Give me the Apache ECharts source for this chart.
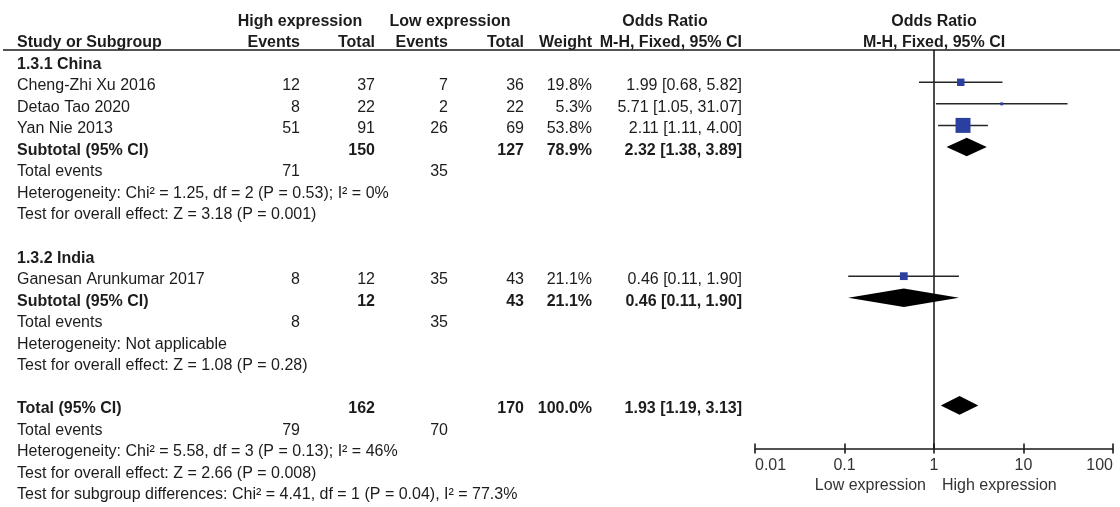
<!DOCTYPE html>
<html>
<head>
<meta charset="utf-8">
<script src="https://cdn.jsdelivr.net/npm/echarts@6/dist/echarts.min.js"></script>
<style>
  html, body { margin: 0; padding: 0; background: #fff; }
  #chart { width: 1120px; height: 507px; }
</style>
</head>
<body>
<div id="chart"></div>
<script>
// ---- Study-level data ----
const studies = ['Cheng-Zhi Xu 2016', 'Detao Tao 2020', 'Yan Nie 2013', 'Ganesan Arunkumar 2017'];
const studyRows = [1, 2, 3, 10];
const highEvents = [12, 8, 51, 8];
const highTotal = [37, 22, 91, 12];
const lowEvents = [7, 2, 26, 35];
const lowTotal = [36, 22, 69, 43];
const weights = [19.8, 5.3, 53.8, 21.1];
const oddsRatio = [1.99, 5.71, 2.11, 0.46];
const ciLow = [0.68, 1.05, 1.11, 0.11];
const ciHigh = [5.82, 31.07, 4.00, 1.90];

// ---- Subgroup / overall pooled estimates ----
const pooledLabels = ['Subtotal (95% CI)', 'Subtotal (95% CI)', 'Total (95% CI)'];
const pooledRows = [4, 11, 16];
const pooledHighTotal = [150, 12, 162];
const pooledLowTotal = [127, 43, 170];
const pooledWeight = [78.9, 21.1, 100.0];
const pooledOR = [2.32, 0.46, 1.93];
const pooledLow = [1.38, 0.11, 1.19];
const pooledHigh = [3.89, 1.90, 3.13];
const pooledHighEvents = [71, 8, 79];
const pooledLowEvents = [35, 35, 70];

// ---- Group headings and statistics lines ----
const groupTitles = ['1.3.1 China', '1.3.2 India'];
const groupRows = [0, 9];
const statRows = [6, 7, 13, 14, 18, 19, 20];
const statTexts = [
  'Heterogeneity: Chi\u00b2 = 1.25, df = 2 (P = 0.53); I\u00b2 = 0%',
  'Test for overall effect: Z = 3.18 (P = 0.001)',
  'Heterogeneity: Not applicable',
  'Test for overall effect: Z = 1.08 (P = 0.28)',
  'Heterogeneity: Chi\u00b2 = 5.58, df = 3 (P = 0.13); I\u00b2 = 46%',
  'Test for overall effect: Z = 2.66 (P = 0.008)',
  'Test for subgroup differences: Chi\u00b2 = 4.41, df = 1 (P = 0.04), I\u00b2 = 77.3%'
];

// ---- Axis ticks ----
const tickValues = [0.01, 0.1, 1, 10, 100];
const tickLabels = ['0.01', '0.1', '1', '10', '100'];
const favourLabels = ['Low expression', 'High expression'];

const FONT = '"Liberation Sans", Arial, Helvetica, sans-serif';
const TEXT_COLOR = '#1c1c1c';
const SQUARE_COLOR = '#2b3fa0';
const DIAMOND_HALF = 9.3;

// Column anchors of the table (pixels)
const COL = { name: 17, hiEv: 300, hiTot: 375, loEv: 448, loTot: 524, weight: 592, or: 742 };

function squareSize(w) { return 0.92 * Math.pow(w, 0.7); }
function fmtCI(o, l, h) { return o.toFixed(2) + ' [' + l.toFixed(2) + ', ' + h.toFixed(2) + ']'; }
function fmtW(w) { return w.toFixed(1) + '%'; }

const chart = echarts.init(document.getElementById('chart'), null, { renderer: 'canvas' });

const studyData = studies.map((s, i) => [oddsRatio[i], studyRows[i], ciLow[i], ciHigh[i], weights[i]]);
const pooledData = pooledOR.map((o, i) => [o, pooledRows[i], pooledLow[i], pooledHigh[i]]);

const xAxisBase = {
  type: 'log',
  logBase: 10,
  min: 0.01,
  max: 100,
  splitLine: { show: false },
  minorTick: { show: false }
};

chart.setOption({
  animation: false,
  backgroundColor: '#ffffff',
  grid: { left: 755, right: 7, top: 50, bottom: 58.5, containLabel: false },
  xAxis: [
    Object.assign({}, xAxisBase, {
      position: 'bottom',
      axisLine: { show: true, onZero: false, lineStyle: { color: '#1a1a1a', width: 1.6 } },
      axisTick: { show: true, inside: false, length: 5, lineStyle: { color: '#1a1a1a', width: 1.6 } },
      axisLabel: {
        show: true,
        margin: 9,
        color: '#333',
        fontSize: 16,
        fontFamily: FONT,
        alignMinLabel: 'left',
        alignMaxLabel: 'right',
        formatter: function (v) {
          let best = 0;
          tickValues.forEach((t, k) => {
            if (Math.abs(Math.log10(t) - Math.log10(v)) < Math.abs(Math.log10(tickValues[best]) - Math.log10(v))) best = k;
          });
          return tickLabels[best];
        }
      }
    }),
    Object.assign({}, xAxisBase, {
      position: 'bottom',
      axisLine: { show: false, onZero: false },
      axisTick: { show: true, inside: true, length: 5, lineStyle: { color: '#1a1a1a', width: 1.6 } },
      axisLabel: { show: false }
    })
  ],
  yAxis: {
    type: 'value',
    inverse: true,
    min: -0.5,
    max: 18,
    show: false
  },
  series: [
    {
      // line of no effect (OR = 1)
      type: 'line',
      xAxisIndex: 0,
      data: [[1, -0.5], [1, 18]],
      symbol: 'none',
      lineStyle: { color: '#111', width: 1.5 },
      silent: true,
      z: 1
    },
    {
      // individual studies: CI whisker + weighted square
      type: 'custom',
      xAxisIndex: 0,
      data: studyData,
      clip: false,
      z: 3,
      renderItem: function (params, api) {
        const r = api.value(1);
        const p = api.coord([api.value(0), r]);
        const a = api.coord([api.value(2), r]);
        const b = api.coord([api.value(3), r]);
        const s = squareSize(api.value(4));
        return {
          type: 'group',
          children: [
            { type: 'line', shape: { x1: a[0], y1: a[1], x2: b[0], y2: b[1] }, style: { stroke: '#262626', lineWidth: 1.5 } },
            { type: 'rect', shape: { x: p[0] - s / 2, y: p[1] - s / 2, width: s, height: s }, style: { fill: SQUARE_COLOR } }
          ]
        };
      }
    },
    {
      // pooled estimates: diamonds
      type: 'custom',
      xAxisIndex: 0,
      data: pooledData,
      clip: false,
      z: 3,
      renderItem: function (params, api) {
        const r = api.value(1);
        const p = api.coord([api.value(0), r]);
        const a = api.coord([api.value(2), r]);
        const b = api.coord([api.value(3), r]);
        return {
          type: 'polygon',
          shape: { points: [[a[0], p[1]], [p[0], p[1] - DIAMOND_HALF], [b[0], p[1]], [p[0], p[1] + DIAMOND_HALF]] },
          style: { fill: '#000' }
        };
      }
    }
  ]
});

// ---- Table text, positioned on the same row scale as the plot ----
const yOf = r => chart.convertToPixel({ yAxisIndex: 0 }, r) + 3.5;
const xOne = chart.convertToPixel({ xAxisIndex: 0 }, 1);
const elements = [];

function txt(x, r, text, align, bold, color) {
  elements.push({
    type: 'text',
    x: x,
    y: typeof r === 'number' ? yOf(r) : r.y,
    silent: true,
    style: {
      text: String(text),
      fill: color || TEXT_COLOR,
      font: (bold ? 'bold ' : '') + '16px ' + FONT,
      align: align,
      verticalAlign: 'middle'
    }
  });
}

// headers
txt(300, -2, 'High expression', 'center', true);
txt(450, -2, 'Low expression', 'center', true);
txt(665, -2, 'Odds Ratio', 'center', true);
txt(xOne, -2, 'Odds Ratio', 'center', true);
txt(COL.name, -1, 'Study or Subgroup', 'left', true);
txt(COL.hiEv, -1, 'Events', 'right', true);
txt(COL.hiTot, -1, 'Total', 'right', true);
txt(COL.loEv, -1, 'Events', 'right', true);
txt(COL.loTot, -1, 'Total', 'right', true);
txt(COL.weight, -1, 'Weight', 'right', true);
txt(COL.or, -1, 'M-H, Fixed, 95% CI', 'right', true);
txt(xOne, -1, 'M-H, Fixed, 95% CI', 'center', true);

// header rule
const ruleY = chart.convertToPixel({ yAxisIndex: 0 }, -0.5);
elements.push({
  type: 'line', silent: true,
  shape: { x1: 3, y1: ruleY, x2: 1120, y2: ruleY },
  style: { stroke: '#1a1a1a', lineWidth: 1.6 }
});

// group headings
groupTitles.forEach((g, i) => txt(COL.name, groupRows[i], g, 'left', true));

// studies
studies.forEach((s, i) => {
  const r = studyRows[i];
  txt(COL.name, r, s, 'left', false);
  txt(COL.hiEv, r, highEvents[i], 'right', false);
  txt(COL.hiTot, r, highTotal[i], 'right', false);
  txt(COL.loEv, r, lowEvents[i], 'right', false);
  txt(COL.loTot, r, lowTotal[i], 'right', false);
  txt(COL.weight, r, fmtW(weights[i]), 'right', false);
  txt(COL.or, r, fmtCI(oddsRatio[i], ciLow[i], ciHigh[i]), 'right', false);
});

// pooled rows + total events
pooledLabels.forEach((lab, i) => {
  const r = pooledRows[i];
  txt(COL.name, r, lab, 'left', true);
  txt(COL.hiTot, r, pooledHighTotal[i], 'right', true);
  txt(COL.loTot, r, pooledLowTotal[i], 'right', true);
  txt(COL.weight, r, fmtW(pooledWeight[i]), 'right', true);
  txt(COL.or, r, fmtCI(pooledOR[i], pooledLow[i], pooledHigh[i]), 'right', true);
  txt(COL.name, r + 1, 'Total events', 'left', false);
  txt(COL.hiEv, r + 1, pooledHighEvents[i], 'right', false);
  txt(COL.loEv, r + 1, pooledLowEvents[i], 'right', false);
});

// statistics lines
statTexts.forEach((t, i) => txt(COL.name, statRows[i], t, 'left', false));

// favour labels under the axis
const favY = { y: chart.getHeight() - 58.5 + 37 };
txt(xOne - 8, favY, favourLabels[0], 'right', false, '#333');
txt(xOne + 8, favY, favourLabels[1], 'left', false, '#333');

chart.setOption({ graphic: { elements: elements } });
</script>
</body>
</html>
